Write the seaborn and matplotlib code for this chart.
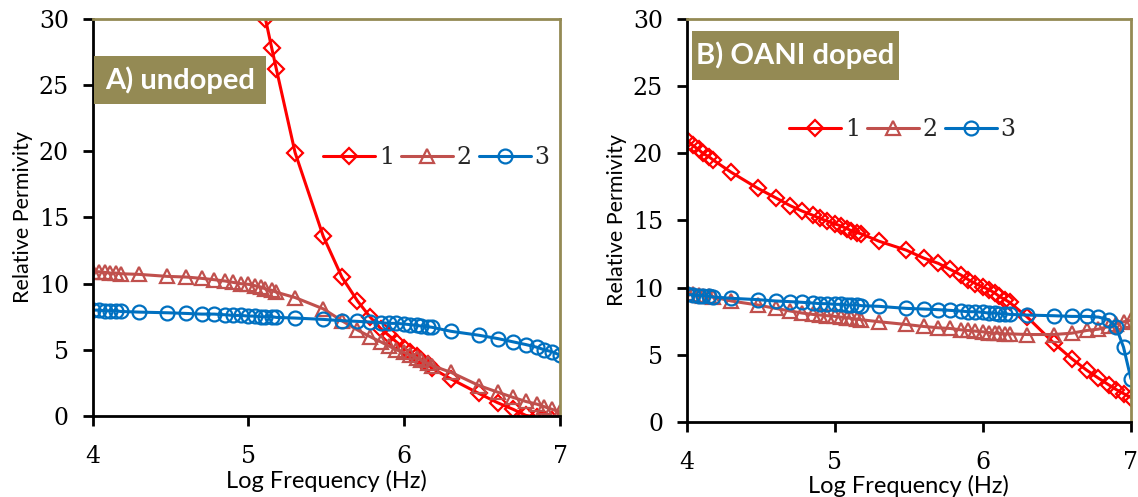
import numpy as np
import pandas as pd
import matplotlib
matplotlib.use("Agg")
import matplotlib.pyplot as plt
import seaborn as sns
from matplotlib.patches import Rectangle

# ---------------- data ----------------
log_freq = [4.00, 4.04, 4.08, 4.11, 4.15, 4.18, 4.30, 4.48, 4.60, 4.70, 4.78, 4.85, 4.90, 4.95,
            5.00, 5.04, 5.08, 5.11, 5.15, 5.18, 5.30, 5.48, 5.60, 5.70, 5.78, 5.85, 5.90, 5.95,
            6.00, 6.04, 6.08, 6.11, 6.15, 6.18, 6.30, 6.48, 6.60, 6.70, 6.78, 6.85, 6.90, 6.95, 7.00]

nan = np.nan
undoped_1 = [nan] * 17 + [30.0, 27.8, 26.2, 19.9, 13.6, 10.5, 8.7, 7.5, 6.6, 6.1, 5.6, 5.1, 4.8,
                          4.5, 4.2, 3.9, 3.6, 2.8, 1.7, 1.0, 0.5, 0.05, -0.1, -0.2, -0.3, -0.4]
undoped_2 = [10.9, 10.9, 10.85, 10.8, 10.8, 10.75, 10.7, 10.55, 10.5, 10.4, 10.3, 10.2, 10.1, 10.0,
             9.95, 9.85, 9.75, 9.6, 9.5, 9.35, 8.95, 8.1, 7.2, 6.5, 6.0, 5.6, 5.3, 5.0,
             4.8, 4.6, 4.4, 4.2, 4.0, 3.8, 3.3, 2.3, 1.8, 1.4, 1.1, 0.9, 0.7, 0.5, 0.3]
undoped_3 = [8.0, 8.0, 7.95, 7.95, 7.95, 7.9, 7.85, 7.8, 7.75, 7.7, 7.7, 7.65, 7.6, 7.6,
             7.55, 7.55, 7.5, 7.5, 7.5, 7.45, 7.4, 7.3, 7.2, 7.15, 7.1, 7.05, 7.0, 7.0,
             6.95, 6.9, 6.85, 6.8, 6.75, 6.7, 6.4, 6.1, 5.85, 5.6, 5.4, 5.2, 5.0, 4.85, 4.6]

doped_1 = [21.0, 20.6, 20.3, 20.0, 19.75, 19.5, 18.6, 17.4, 16.7, 16.1, 15.7, 15.4, 15.15, 14.95,
           14.75, 14.6, 14.4, 14.25, 14.1, 14.0, 13.45, 12.8, 12.2, 11.8, 11.35, 10.95, 10.6, 10.3,
           10.05, 9.85, 9.6, 9.35, 9.1, 8.9, 7.8, 5.85, 4.7, 3.85, 3.25, 2.75, 2.4, 2.1, 1.8]
doped_2 = [9.6, 9.5, 9.45, 9.4, 9.35, 9.3, 9.0, 8.7, 8.45, 8.25, 8.1, 8.0, 7.95, 7.9,
           7.85, 7.8, 7.75, 7.7, 7.65, 7.6, 7.45, 7.25, 7.1, 7.0, 6.95, 6.85, 6.8, 6.75,
           6.7, 6.65, 6.6, 6.6, 6.55, 6.55, 6.5, 6.5, 6.6, 6.8, 6.9, 7.1, 7.3, 7.45, 7.55]
doped_3 = [9.5, 9.45, 9.4, 9.4, 9.35, 9.3, 9.2, 9.1, 9.0, 8.95, 8.9, 8.85, 8.8, 8.8,
           8.75, 8.75, 8.7, 8.7, 8.7, 8.65, 8.6, 8.45, 8.4, 8.35, 8.3, 8.25, 8.2, 8.2,
           8.15, 8.1, 8.1, 8.05, 8.05, 8.0, 7.95, 7.9, 7.85, 7.85, 7.8, 7.6, 7.05, 5.55, 3.2]

series_labels = ["1", "2", "3"]
panel_titles = ["A) undoped", "B) OANI doped"]
x_ticks = [4, 5, 6, 7]
y_ticks = [0, 5, 10, 15, 20, 25, 30]

# ---------------- style ----------------
sns.set_theme(style="white")
plt.rcParams["font.family"] = ["Lato", "DejaVu Sans"]

colors = ["#FF0000", "#C0504D", "#0070C0"]
markers = ["D", "^", "o"]
msizes = [8.5, 10, 10]
olive = "#948A54"

fig = plt.figure(figsize=(11.38, 4.97), dpi=100)
axA = fig.add_axes([0.0813, 0.1630, 0.4108, 0.7988])
axB = fig.add_axes([0.6034, 0.1515, 0.3904, 0.8097])

panels = [
    (axA, [undoped_1, undoped_2, undoped_3], panel_titles[0], (0.735, 0.65), (0.004, 0.787, 0.367, 0.12)),
    (axB, [doped_1, doped_2, doped_3], panel_titles[1], (0.485, 0.725), (0.012, 0.85, 0.466, 0.12)),
]

for ax, ys, title, legpos, box in panels:
    for i, y in enumerate(ys):
        df = pd.DataFrame({"x": log_freq, "y": y}).dropna()
        sns.lineplot(data=df, x="x", y="y", ax=ax, color=colors[i], marker=markers[i],
                     markersize=msizes[i], markerfacecolor="none", markeredgecolor=colors[i],
                     markeredgewidth=1.6, linewidth=2.2, label=series_labels[i],
                     estimator=None, sort=False)
    ax.set_xlim(4, 7)
    ax.set_ylim(0, 30)
    ax.set_xticks(x_ticks)
    ax.set_yticks(y_ticks)
    ax.set_xlabel("Log Frequency (Hz)", fontsize=17, labelpad=1, color="black")
    ax.set_ylabel("Relative Permivity", fontsize=15.5, labelpad=4, color="black")
    for lab in ax.get_xticklabels() + ax.get_yticklabels():
        lab.set_fontfamily("DejaVu Serif")
        lab.set_fontsize(17)
    ax.tick_params(axis="both", direction="out", length=7, width=2, color="black",
                   left=True, bottom=True, labelcolor="black")
    ax.tick_params(axis="x", pad=14)
    ax.tick_params(axis="y", pad=10)
    ax.spines["left"].set_color("black")
    ax.spines["bottom"].set_color("black")
    ax.spines["top"].set_color(olive)
    ax.spines["right"].set_color(olive)
    for s in ax.spines.values():
        s.set_linewidth(2)
        s.set_visible(True)
    ax.grid(False)

    leg = ax.legend(loc="center", bbox_to_anchor=legpos, ncol=3, frameon=False,
                    handlelength=2.2, handletextpad=0.15, columnspacing=0.3,
                    borderpad=0.1, prop={"family": "DejaVu Serif", "size": 17})

    bx, by, bw, bh = box
    ax.add_patch(Rectangle((bx, by), bw, bh, transform=ax.transAxes, facecolor=olive,
                           edgecolor="none", zorder=5, clip_on=False))
    ax.text(bx + bw / 2, by + bh / 2, title, transform=ax.transAxes, ha="center", va="center",
            color="white", fontsize=21, fontweight="bold", zorder=6)

fig.savefig("out.png", dpi=100)
